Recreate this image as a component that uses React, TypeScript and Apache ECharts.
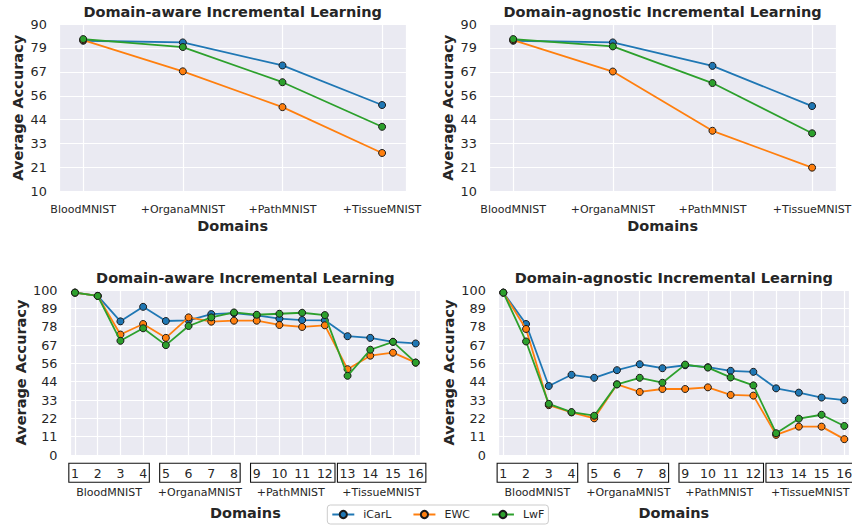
import React, { useEffect, useRef } from 'react';
import * as echarts from 'echarts';

// ---------- data ----------
const domains = ['BloodMNIST', '+OrganaMNIST', '+PathMNIST', '+TissueMNIST'];
const tasks = [1, 2, 3, 4, 5, 6, 7, 8, 9, 10, 11, 12, 13, 14, 15, 16];
const methods = ['iCarL', 'EWC', 'LwF'];
const methodColors = ['#1f77b4', '#ff7f0e', '#2ca02c'];

const topYTicks = [10, 21, 33, 44, 56, 67, 79, 90];
const bottomYTicks = [0, 11, 22, 33, 44, 56, 67, 78, 89, 100];

// Domain-level accuracy (top row)
const awareDomainICarL = [82.0, 81.2, 70.2, 51.3];
const awareDomainEWC = [82.3, 67.4, 50.3, 28.4];
const awareDomainLwF = [82.8, 79.0, 62.2, 40.9];
const agnosticDomainICarL = [82.0, 81.2, 70.0, 50.8];
const agnosticDomainEWC = [82.3, 67.3, 39.0, 21.4];
const agnosticDomainLwF = [82.8, 79.3, 61.8, 37.8];

// Task-level accuracy (bottom row)
const awareTaskICarL = [98.4, 96.4, 81.0, 89.8, 81.2, 81.6, 85.4, 86.0, 84.6, 82.6, 81.8, 81.6, 72.0, 71.0, 68.6, 67.6];
const awareTaskEWC = [98.4, 96.4, 73.0, 79.4, 71.0, 83.4, 80.8, 81.4, 81.4, 78.8, 77.6, 78.6, 52.0, 60.2, 62.0, 56.0];
const awareTaskLwF = [98.4, 96.4, 69.2, 76.8, 66.6, 78.2, 83.4, 86.4, 85.0, 85.6, 86.2, 84.8, 48.0, 63.8, 68.6, 56.0];
const agnosticTaskICarL = [98.4, 79.4, 41.8, 48.6, 46.8, 51.4, 55.0, 52.6, 54.4, 53.2, 51.0, 50.4, 40.4, 37.8, 34.8, 33.2];
const agnosticTaskEWC = [98.4, 76.4, 30.2, 25.8, 22.2, 42.8, 38.2, 40.0, 40.0, 41.0, 36.4, 36.0, 12.2, 17.2, 17.2, 9.6];
const agnosticTaskLwF = [98.4, 68.8, 31.0, 26.0, 23.8, 42.8, 46.8, 43.8, 54.8, 53.0, 47.0, 42.2, 13.2, 22.0, 24.4, 17.6];

const titles = [
  'Domain-aware Incremental Learning',
  'Domain-agnostic Incremental Learning',
  'Domain-aware Incremental Learning',
  'Domain-agnostic Incremental Learning',
];

// ---------- layout ----------
const grids = [
  { left: 59.3, top: 24, width: 346.7, height: 167.5 },
  { left: 489.3, top: 24, width: 346.7, height: 167.5 },
  { left: 70, top: 290, width: 350.7, height: 165 },
  { left: 498.3, top: 290, width: 351, height: 165 },
];

const FONT = 'DejaVu Sans';
const TEXT = '#262626';

// map a value to the tick-index scale (ticks are evenly spaced, non-integer)
const topMap = (v: number) => ((v - topYTicks[0]) * (topYTicks.length - 1)) / (topYTicks[topYTicks.length - 1] - topYTicks[0]);
const botMap = (v: number) => ((v - bottomYTicks[0]) * (bottomYTicks.length - 1)) / (bottomYTicks[bottomYTicks.length - 1] - bottomYTicks[0]);

export default function App() {
  const ref = useRef<HTMLDivElement>(null);

  useEffect(() => {
    if (!ref.current) return;
    const chart = echarts.init(ref.current, undefined, { renderer: 'svg' });

    const seriesSets = [
      [awareDomainICarL, awareDomainEWC, awareDomainLwF],
      [agnosticDomainICarL, agnosticDomainEWC, agnosticDomainLwF],
      [awareTaskICarL, awareTaskEWC, awareTaskLwF],
      [agnosticTaskICarL, agnosticTaskEWC, agnosticTaskLwF],
    ];

    const series: any[] = [];
    seriesSets.forEach((set, gi) => {
      const map = gi < 2 ? topMap : botMap;
      set.forEach((vals, mi) => {
        series.push({
          type: 'line',
          name: methods[mi],
          xAxisIndex: gi,
          yAxisIndex: gi,
          data: vals.map((v, i) => [i, map(v)]),
          symbol: 'circle',
          symbolSize: 7,
          lineStyle: { width: 1.8, color: methodColors[mi] },
          itemStyle: { color: methodColors[mi], borderColor: '#1a1a1a', borderWidth: 1 },
          emphasis: { disabled: true },
          z: 2 + mi,
        });
      });
    });

    const xAxis = grids.map((_, gi) => {
      const top = gi < 2;
      const n = top ? domains.length : tasks.length;
      const pad = top ? 0.24 : 0.22;
      return {
        type: 'value',
        gridIndex: gi,
        min: -pad,
        max: n - 1 + pad,
        minInterval: 1,
        maxInterval: 1,
        splitNumber: n - 1,
        axisLine: { show: false },
        axisTick: { show: false },
        splitLine: { show: true, lineStyle: { color: '#ffffff', width: 1.2 } },
        axisLabel: {
          margin: top ? 12 : 11.5,
          fontSize: top ? 11 : 12.5,
          fontFamily: FONT,
          color: TEXT,
          hideOverlap: false,
          formatter: (v: number) => {
            const r = Math.round(v);
            if (Math.abs(v - r) > 1e-6 || r < 0 || r >= n) return '';
            return top ? domains[r] : String(tasks[r]);
          },
        },
      };
    });

    const yAxis = grids.map((_, gi) => {
      const top = gi < 2;
      const ticks = top ? topYTicks : bottomYTicks;
      return {
        type: 'value',
        gridIndex: gi,
        min: 0,
        max: ticks.length - 1,
        interval: 1,
        axisLine: { show: false },
        axisTick: { show: false },
        splitLine: { show: true, lineStyle: { color: '#ffffff', width: 1.2 } },
        axisLabel: {
          margin: 12.5,
          fontSize: 12.8,
          fontFamily: FONT,
          color: TEXT,
          formatter: (v: number) => {
            const r = Math.round(v);
            return ticks[r] !== undefined ? String(ticks[r]) : '';
          },
        },
      };
    });

    chart.setOption({
      animation: false,
      backgroundColor: '#ffffff',
      textStyle: { fontFamily: FONT },
      grid: grids.map((g) => ({
        ...g,
        show: true,
        backgroundColor: '#eaeaf2',
        borderWidth: 0,
        containLabel: false,
        outerBoundsMode: 'none',
      })),
      xAxis,
      yAxis,
      legend: {
        data: methods,
        left: 327.3,
        top: 505,
        orient: 'horizontal',
        itemWidth: 22,
        itemHeight: 9,
        itemGap: 21,
        padding: [4, 4, 4, 4],
        borderColor: '#cccccc',
        borderWidth: 1,
        borderRadius: 3,
        backgroundColor: 'rgba(255,255,255,0.9)',
        selectedMode: false,
        textStyle: { fontSize: 11, color: TEXT, fontFamily: FONT, padding: [0, 0, 0, 4] },
      },
      series,
    });

    // ---------- annotations (titles, axis names, task group boxes) ----------
    const graphic: any[] = [];
    const boldText = (text: string, x: number, y: number, rot = 0) => ({
      type: 'text',
      x,
      y,
      rotation: rot,
      silent: true,
      style: {
        text,
        fill: TEXT,
        fontSize: 14.5,
        fontWeight: 'bold',
        fontFamily: FONT,
        align: 'center',
        verticalAlign: 'middle',
      },
    });

    grids.forEach((g, gi) => {
      const top = gi < 2;
      const cx = g.left + g.width / 2;
      const cy = g.top + g.height / 2;
      const bottom = g.top + g.height;
      graphic.push(boldText(titles[gi], cx, g.top - 12.3));
      graphic.push(boldText('Average Accuracy', g.left - (top ? 41.3 : 49.3), cy, Math.PI / 2));
      graphic.push(boldText('Domains', cx, bottom + (top ? 34.2 : 58.3)));

      if (!top) {
        const perGroup = tasks.length / domains.length;
        domains.forEach((d, di) => {
          const first = di * perGroup;
          const last = first + perGroup - 1;
          const px0 = chart.convertToPixel({ xAxisIndex: gi } as any, first) as unknown as number;
          const px1 = chart.convertToPixel({ xAxisIndex: gi } as any, last) as unknown as number;
          const digitW = 0.636 * 12.5;
          const w0 = String(tasks[first]).length * digitW;
          const w1 = String(tasks[last]).length * digitW;
          const bx0 = px0 - w0 / 2 - 2.2;
          const bx1 = px1 + w1 / 2 + 2.2;
          graphic.push({
            type: 'rect',
            silent: true,
            shape: { x: bx0, y: bottom + 8.3, width: bx1 - bx0, height: 19 },
            style: { fill: 'none', stroke: '#111111', lineWidth: 1.1 },
          });
          graphic.push({
            type: 'text',
            silent: true,
            x: (px0 + px1) / 2,
            y: bottom + 37.3,
            style: {
              text: d,
              fill: TEXT,
              fontSize: 11,
              fontFamily: FONT,
              align: 'center',
              verticalAlign: 'middle',
            },
          });
        });
      }
    });

    chart.setOption({ graphic });

    return () => {
      chart.dispose();
    };
  }, []);

  return (
    <div
      ref={ref}
      style={{ position: 'absolute', left: 0, top: 0, width: 852, height: 525, background: '#ffffff' }}
    />
  );
}
